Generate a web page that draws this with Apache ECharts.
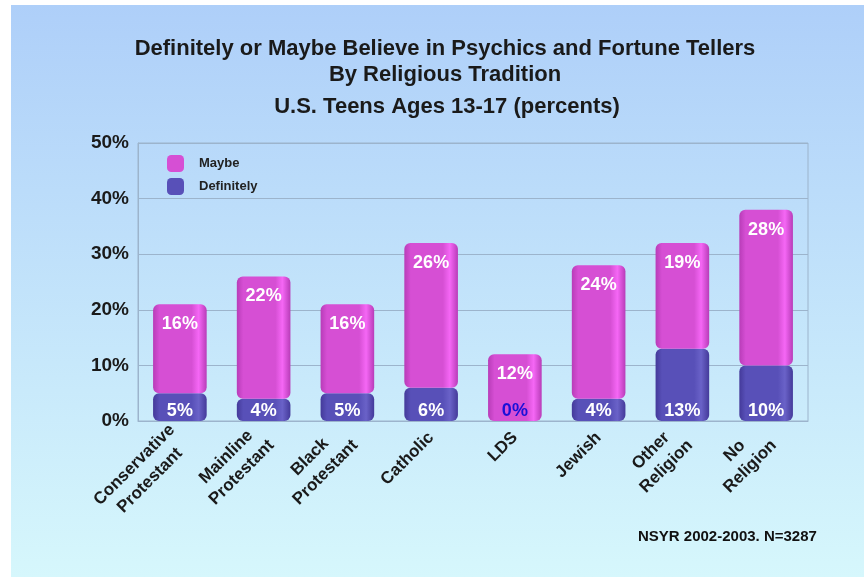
<!DOCTYPE html>
<html>
<head>
<meta charset="utf-8">
<script src="https://cdn.jsdelivr.net/npm/echarts@6/dist/echarts.min.js"></script>
<style>
html,body{margin:0;padding:0;background:#fff;}
#c{width:864px;height:577px;}
</style>
</head>
<body>
<div id="c"></div>
<script>
const categories = ['Conservative\nProtestant','Mainline\nProtestant','Black\nProtestant','Catholic','LDS','Jewish','Other\nReligion','No\nReligion'];
const definitely = [5,4,5,6,0,4,13,10];
const maybe = [16,22,16,26,12,24,19,28];
const yTicks = [0,10,20,30,40,50];

const FONT = '"Liberation Sans", Arial, sans-serif';

function grad(dark, mid, light){
  return new echarts.graphic.LinearGradient(0,0,1,0,[
    {offset:0, color:dark},
    {offset:0.12, color:mid},
    {offset:0.72, color:mid},
    {offset:0.85, color:light},
    {offset:1, color:dark}
  ]);
}
const maybeColor = grad('#b83cb8','#d64fd4','#f567f5');
const defColor = grad('#443a9a','#5850b8','#6a62c8');

const chart = echarts.init(document.getElementById('c'));
chart.setOption({
  backgroundColor:'#ffffff',
  animation:false,
  graphic:[{
    type:'rect', z:-10, silent:true,
    shape:{x:11,y:5,width:853,height:572},
    style:{fill:new echarts.graphic.LinearGradient(0,0,0,1,[
      {offset:0,color:'#aecff9'},{offset:1,color:'#d6f7fc'}])}
  },{
    type:'text', left:638, top:529,
    style:{text:'NSYR 2002-2003. N=3287', font:'bold 15px "Liberation Sans", Arial, sans-serif', fill:'#111'}
  }],
  title:[{
    text:'Definitely or Maybe Believe in Psychics and Fortune Tellers\nBy Religious Tradition',
    left:440, top:31, textAlign:'center',
    textStyle:{fontFamily:FONT, fontWeight:'bold', fontSize:22, lineHeight:26, color:'#1a1a1a'}
  },{
    text:'U.S. Teens Ages 13-17 (percents)',
    left:442, top:91, textAlign:'center',
    textStyle:{fontFamily:FONT, fontWeight:'bold', fontSize:22, color:'#1a1a1a'}
  }],
  legend:{
    orient:'vertical', left:162, top:150, itemWidth:17, itemHeight:17, itemGap:6,
    textStyle:{fontFamily:FONT, fontWeight:'bold', fontSize:13, color:'#222', padding:[0,0,0,10]},
    data:[{name:'Maybe', itemStyle:{color:'#d64fd4'}},{name:'Definitely', itemStyle:{color:'#5850b8'}}]
  },
  grid:{left:138, right:56, top:143, bottom:156, containLabel:false, show:true, borderColor:'#9cb4cc', borderWidth:1},
  xAxis:{
    type:'category', data:categories,
    axisLine:{show:true, lineStyle:{color:'#9cb4cc'}},
    axisTick:{show:false},
    axisLabel:{
      rotate:45, interval:0, margin:14,
      fontFamily:FONT, fontWeight:'bold', fontSize:17, color:'#1a1a1a', lineHeight:22,
      formatter:function(v){ return v.split('\n').map(s=>'{c|'+s+'}').join('\n'); },
      rich:{c:{align:'center', fontFamily:FONT, fontWeight:'bold', fontSize:17, color:'#1a1a1a', lineHeight:22}}
    }
  },
  yAxis:{
    type:'value', min:0, max:50, interval:10,
    axisLine:{show:true, lineStyle:{color:'#9cb4cc'}},
    axisTick:{show:false},
    splitLine:{lineStyle:{color:'#9cb4cc', width:1}},
    axisLabel:{
      margin:9, fontFamily:FONT, fontWeight:'bold', fontSize:19, color:'#1a1a1a',
      formatter:function(v){ return yTicks.indexOf(v)>=0 ? v+'%' : ''; }
    }
  },
  series:[{
    name:'Definitely', type:'bar', stack:'a', barWidth:'64%',
    data:definitely.map(function(v){
      return v===0 ? {value:v, label:{color:'#1a10d8'}} : v;
    }),
    itemStyle:{color:defColor, borderRadius:6},
    label:{show:true, position:'insideBottom', distance:1, formatter:'{c}%',
      fontFamily:FONT, fontWeight:'bold', fontSize:18, color:'#ffffff'}
  },{
    name:'Maybe', type:'bar', stack:'a', barWidth:'64%',
    data:maybe,
    itemStyle:{color:maybeColor, borderRadius:6},
    label:{show:true, position:'insideTop', distance:11, formatter:'{c}%',
      fontFamily:FONT, fontWeight:'bold', fontSize:18, color:'#ffffff'}
  }]
});
</script>
</body>
</html>
